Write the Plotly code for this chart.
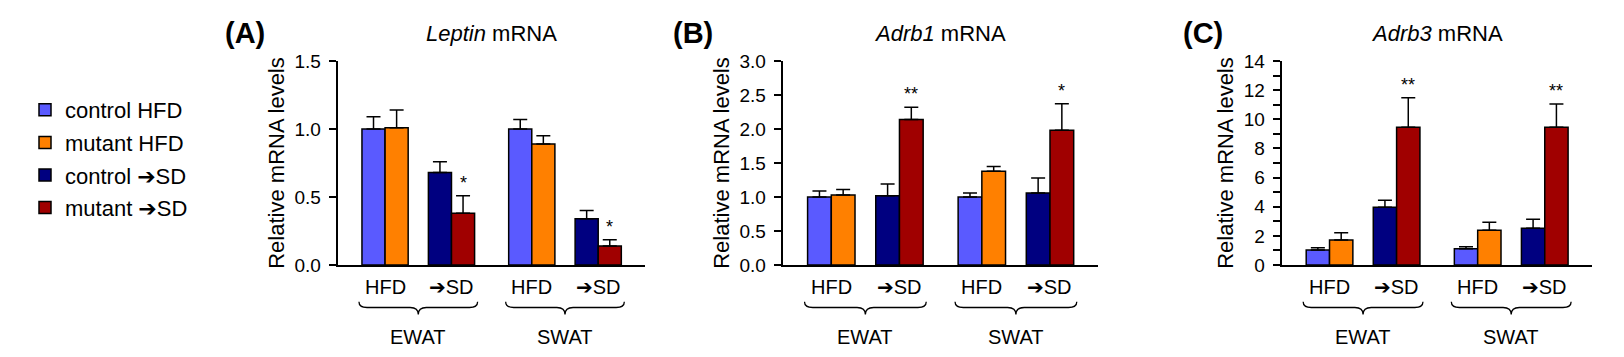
import plotly.graph_objects as go

# ---------------- data ----------------
panel_genes = ["Leptin", "Adrb1", "Adrb3"]
panel_letters = ["(A)", "(B)", "(C)"]
tissues = ["EWAT", "SWAT"]
diet_labels = ["HFD", "➔SD"]
series_names = ["control HFD", "mutant HFD", "control ➔SD", "mutant ➔SD"]
series_colors = ["#5a5aff", "#ff8000", "#000080", "#a00000"]

# values per series: [EWAT, SWAT]
leptin_vals = [[1.00, 1.00], [1.01, 0.89], [0.68, 0.34], [0.38, 0.14]]
leptin_err = [[0.09, 0.07], [0.13, 0.06], [0.08, 0.06], [0.13, 0.045]]
leptin_sig = [["", ""], ["", ""], ["", ""], ["*", "*"]]

adrb1_vals = [[1.00, 1.00], [1.03, 1.38], [1.02, 1.06], [2.14, 1.98]]
adrb1_err = [[0.09, 0.06], [0.08, 0.07], [0.17, 0.22], [0.18, 0.39]]
adrb1_sig = [["", ""], ["", ""], ["", ""], ["**", "*"]]

adrb3_vals = [[1.03, 1.12], [1.72, 2.38], [3.96, 2.52], [9.45, 9.45]]
adrb3_err = [[0.16, 0.14], [0.50, 0.55], [0.48, 0.62], [2.03, 1.60]]
adrb3_sig = [["", ""], ["", ""], ["", ""], ["**", "**"]]

y_ranges = [[0, 1.5], [0, 3.0], [0, 14]]
y_dticks = [0.5, 0.5, 2]
y_minor = [None, None, 1]
y_formats = [".1f", ".1f", "d"]

panel_vals = [leptin_vals, adrb1_vals, adrb3_vals]
panel_err = [leptin_err, adrb1_err, adrb3_err]
panel_sig = [leptin_sig, adrb1_sig, adrb3_sig]

# ---------------- layout constants ----------------
W, H = 1624, 357
M_T, M_B = 61, 92
PLOT_H = H - M_T - M_B
domains = [[337.7 / W, 645 / W], [782.7 / W, 1098 / W], [1281.7 / W, 1592 / W]]
letter_x = [245 / W, 693 / W, 1202.7 / W]
BAR_W = 1.0
PAIR_SP = 2.875
TISSUE_SP = 6.35
X_RANGE = [-2.05, 11.25]
FONT = "Liberation Sans, Arial, DejaVu Sans, sans-serif"


def py(p):
    """pixel row -> paper y"""
    return (H - M_B - p) / PLOT_H


def bar_x(series_idx, tissue_idx):
    g = series_idx // 2
    o = series_idx % 2
    return tissue_idx * TISSUE_SP + g * PAIR_SP + (o - 0.5) * BAR_W


fig = go.Figure()
annotations = []
shapes = []

for p in range(3):
    xa = "x" if p == 0 else f"x{p + 1}"
    ya = "y" if p == 0 else f"y{p + 1}"
    for s in range(4):
        xs = [bar_x(s, t) for t in range(2)]
        fig.add_trace(go.Bar(
            x=xs, y=panel_vals[p][s], width=BAR_W,
            name=series_names[s], legendgroup=series_names[s],
            showlegend=(p == 0),
            marker=dict(color=series_colors[s], line=dict(color="black", width=1.5)),
            error_y=dict(type="data", array=panel_err[p][s], arrayminus=[0, 0],
                         symmetric=False, color="black", thickness=1.5, width=7),
            xaxis=xa, yaxis=ya,
        ))
        for t in range(2):
            if panel_sig[p][s][t]:
                annotations.append(dict(
                    x=xs[t], y=panel_vals[p][s][t] + panel_err[p][s][t],
                    xref=xa, yref=ya, text=panel_sig[p][s][t], showarrow=False,
                    yanchor="bottom", yshift=1, font=dict(size=18, color="black", family=FONT)))

    # panel letter and title
    annotations.append(dict(x=letter_x[p], y=py(33), xref="paper", yref="paper",
                            text=f"<b>{panel_letters[p]}</b>", showarrow=False,
                            xanchor="center", yanchor="middle",
                            font=dict(size=29, color="black", family=FONT)))
    annotations.append(dict(x=(domains[p][0] + domains[p][1]) / 2, y=py(33),
                            xref="paper", yref="paper",
                            text=f"<i>{panel_genes[p]}</i> mRNA", showarrow=False,
                            xanchor="center", yanchor="middle",
                            font=dict(size=22, color="black", family=FONT)))
    # diet labels, braces and tissue labels
    yt, ym, yb = py(301.7), py(307.5), py(314.5)
    r = 0.35
    pad = 0.13
    for t in range(2):
        for g in range(2):
            annotations.append(dict(x=t * TISSUE_SP + g * PAIR_SP, y=py(287),
                                    xref=xa, yref="paper", text=diet_labels[g],
                                    showarrow=False, xanchor="center", yanchor="middle",
                                    font=dict(size=20, color="black", family=FONT)))
        x0 = bar_x(0, t) - BAR_W / 2 - pad
        x1 = bar_x(3, t) + BAR_W / 2 + pad
        xm = (x0 + x1) / 2
        path = (f"M {x0},{yt} Q {x0},{ym} {x0 + r},{ym} L {xm - r},{ym} "
                f"Q {xm},{ym} {xm},{yb} Q {xm},{ym} {xm + r},{ym} "
                f"L {x1 - r},{ym} Q {x1},{ym} {x1},{yt}")
        shapes.append(dict(type="path", path=path, xref=xa, yref="paper",
                           line=dict(color="black", width=1.3)))
        annotations.append(dict(x=xm, y=py(336.7), xref=xa, yref="paper",
                                text=tissues[t], showarrow=False,
                                xanchor="center", yanchor="middle",
                                font=dict(size=20, color="black", family=FONT)))

layout = dict(
    width=W, height=H,
    margin=dict(l=0, r=0, t=M_T, b=M_B),
    paper_bgcolor="white", plot_bgcolor="white",
    barmode="overlay",
    font=dict(family=FONT, color="black"),
    annotations=annotations, shapes=shapes,
    legend=dict(x=25 / W, y=py(89), xanchor="left", yanchor="top",
                font=dict(size=22, color="black", family=FONT),
                tracegroupgap=1, bgcolor="rgba(0,0,0,0)"),
)
for p in range(3):
    xk = "xaxis" if p == 0 else f"xaxis{p + 1}"
    yk = "yaxis" if p == 0 else f"yaxis{p + 1}"
    yname = "y" if p == 0 else f"y{p + 1}"
    xname = "x" if p == 0 else f"x{p + 1}"
    layout[xk] = dict(domain=domains[p], range=X_RANGE, anchor=yname,
                      showline=True, linecolor="black", linewidth=2,
                      showgrid=False, zeroline=False, ticks="",
                      showticklabels=False, fixedrange=True)
    ydict = dict(domain=[0, 1], range=y_ranges[p], anchor=xname,
                 showline=True, linecolor="black", linewidth=2,
                 showgrid=False, zeroline=False,
                 ticks="outside", ticklen=7, tickwidth=2, tickcolor="black",
                 dtick=y_dticks[p], tick0=0, tickformat=y_formats[p],
                 ticklabelstandoff=4,
                 tickfont=dict(size=19, color="black", family=FONT),
                 title=dict(text="Relative mRNA levels", standoff=4,
                            font=dict(size=22, color="black", family=FONT)),
                 fixedrange=True)
    if y_minor[p]:
        ydict["minor"] = dict(dtick=y_minor[p], ticks="outside", ticklen=7,
                              tickwidth=2, tickcolor="black", showgrid=False)
    layout[yk] = ydict

fig.update_layout(**layout)
fig.write_html("out.html", config={"displayModeBar": False},
               post_script="document.body.style.margin='0';document.body.style.padding='0';")
